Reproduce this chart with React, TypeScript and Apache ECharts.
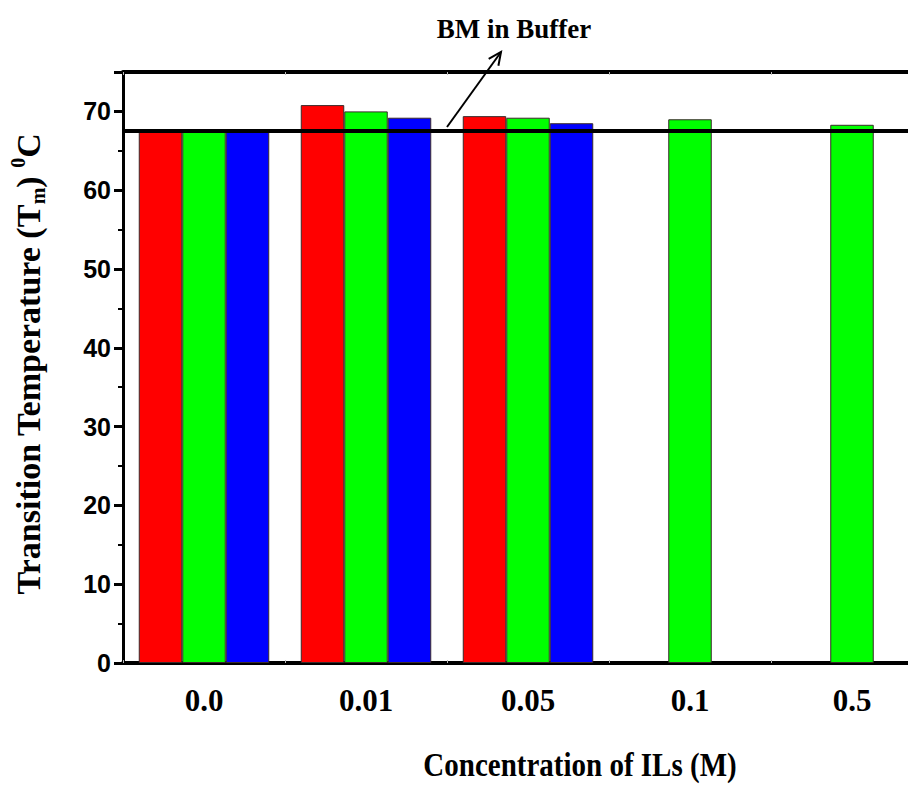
import React, { useEffect, useRef } from "react";
import * as echarts from "echarts";

const categories = ["0.0", "0.01", "0.05", "0.1", "0.5"];
const seriesRed = [67.5, 70.8, 69.4, null, null];
const seriesGreen = [67.5, 70.0, 69.2, 69.0, 68.3];
const seriesBlue = [67.5, 69.2, 68.5, null, null];
const bufferLevel = 67.5;
const yTickValues = [0, 10, 20, 30, 40, 50, 60, 70];

const serif = "'Liberation Serif', 'Times New Roman', serif";
const sans = "'Liberation Sans', Arial, sans-serif";

export default function App() {
  const ref = useRef<HTMLDivElement>(null);
  useEffect(() => {
    if (!ref.current) return;
    const chart = echarts.init(ref.current, null, { renderer: "svg" });
    const barStyle = (color: string) => ({
      color,
      borderColor: "#3a2a2a",
      borderWidth: 1,
    });
    chart.setOption({
      animation: false,
      backgroundColor: "#ffffff",
      grid: { left: 123, top: 72, width: 810, bottom: 123, containLabel: false },
      xAxis: [
        {
          type: "category",
          data: categories,
          axisLine: { show: true, lineStyle: { color: "#000", width: 4 } },
          axisTick: { show: true, inside: true, length: 3, lineStyle: { color: "#bbb", width: 1 } },
          axisLabel: {
            color: "#000",
            fontFamily: serif,
            fontWeight: "bold",
            fontSize: 31,
            margin: 22,
          },
          splitLine: { show: false },
        },
        {
          type: "category",
          data: categories,
          position: "top",
          axisLine: { show: true, lineStyle: { color: "#000", width: 4 } },
          axisTick: { show: true, inside: true, length: 3, lineStyle: { color: "#bbb", width: 1 } },
          axisLabel: { show: false },
        },
      ],
      yAxis: {
        type: "value",
        min: 0,
        max: 75,
        interval: 10,
        axisLine: { show: true, lineStyle: { color: "#000", width: 3 } },
        axisTick: { show: true, length: 9, lineStyle: { color: "#000", width: 3 } },
        minorTick: { show: true, splitNumber: 2, length: 5, lineStyle: { color: "#000", width: 2 } },
        axisLabel: {
          color: "#000",
          fontFamily: sans,
          fontWeight: "bold",
          fontSize: 25,
          margin: 12,
          showMaxLabel: false,
          formatter: (v: number) => (yTickValues.includes(v) ? String(v) : ""),
        },
        splitLine: { show: false },
      },
      series: [
        {
          type: "bar",
          name: "red",
          data: seriesRed,
          barWidth: 43.5,
          barGap: "0%",
          itemStyle: barStyle("#ff0000"),
          markLine: {
            silent: true,
            symbol: ["none", "none"],
            label: { show: false },
            lineStyle: { color: "#000", width: 4, type: "solid" },
            data: [{ yAxis: bufferLevel }],
          },
          z: 2,
        },
        {
          type: "bar",
          name: "green",
          data: seriesGreen,
          barWidth: 43.5,
          barGap: "0%",
          itemStyle: barStyle("#00ff00"),
        },
        {
          type: "bar",
          name: "blue",
          data: seriesBlue,
          barWidth: 43.5,
          barGap: "0%",
          itemStyle: barStyle("#0000ff"),
        },
      ],
      graphic: [
        {
          type: "text",
          x: 514,
          y: 29,
          style: {
            text: "BM in Buffer",
            fill: "#000",
            font: `bold 27px ${serif}`,
            align: "center",
            verticalAlign: "middle",
          },
        },
        {
          type: "line",
          shape: { x1: 447, y1: 127, x2: 501, y2: 52 },
          style: { stroke: "#000", lineWidth: 2 },
        },
        {
          type: "polyline",
          shape: { points: [[488.7, 58.9], [501, 52], [498.4, 65.8]] },
          style: { stroke: "#000", lineWidth: 2, fill: null },
        },
        {
          type: "text",
          x: 580,
          y: 765,
          scaleY: 1.15,
          style: {
            text: "Concentration of ILs (M)",
            fill: "#000",
            font: `bold 29px ${serif}`,
            align: "center",
            verticalAlign: "middle",
          },
        },
        {
          type: "text",
          x: 28,
          y: 364,
          rotation: Math.PI / 2,
          style: {
            text: "{a|Transition Temperature (T}{s|m}{a|) }{p|0}{a|C}",
            align: "center",
            verticalAlign: "middle",
            rich: {
              a: { fontFamily: serif, fontWeight: "bold", fontSize: 34, fill: "#000", lineHeight: 40, verticalAlign: "middle" },
              s: { fontFamily: serif, fontWeight: "bold", fontSize: 20, fill: "#000", lineHeight: 40, verticalAlign: "bottom", padding: [12, 0, 0, 0] },
              p: { fontFamily: serif, fontWeight: "bold", fontSize: 20, fill: "#000", lineHeight: 40, verticalAlign: "top", padding: [0, 0, 12, 0] },
            },
          },
        },
      ],
    });
    return () => chart.dispose();
  }, []);
  return (
    <div style={{ position: "fixed", left: 0, top: 0, width: 908, height: 786, overflow: "hidden" }}>
      <div ref={ref} style={{ width: 940, height: 786 }} />
    </div>
  );
}
